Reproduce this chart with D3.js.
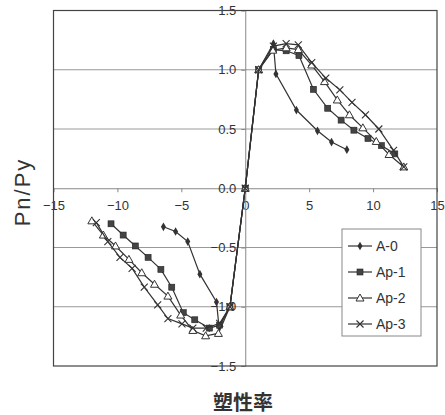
<!DOCTYPE html>
<html>
<head>
<meta charset="utf-8">
<script src="https://cdn.jsdelivr.net/npm/d3@7"></script>
<style>
  body { margin: 0; background: #fff; }
  svg { display: block; font-family: "Liberation Sans", Arial, sans-serif; }
</style>
</head>
<body>
<div id="chart"></div>
<script>
// series: [plastic ratio, Pn/Py], from the negative end through the origin to the positive end
const a0 = [[-6.4,-0.325],[-5.45,-0.365],[-4.5,-0.45],[-3.55,-0.725],[-2.25,-0.96],[-2.05,-1.17],[-1.2,-1.0],[0,0],
            [1.05,1.0],[2.2,1.22],[2.4,0.965],[4.0,0.66],[5.65,0.485],[6.75,0.39],[7.95,0.325]];
const ap1 = [[-10.5,-0.3],[-9.55,-0.395],[-8.6,-0.487],[-7.6,-0.583],[-6.6,-0.685],[-5.75,-0.835],[-4.85,-1.05],
             [-3.95,-1.11],[-2.8,-1.18],[-2.0,-1.155],[-1.2,-1.0],[0,0],[1.05,1.0],[2.2,1.17],[3.2,1.16],[4.2,1.12],
             [5.33,0.835],[6.45,0.675],[7.5,0.575],[8.5,0.49],[9.6,0.42],[10.65,0.36],[11.7,0.29]];
const ap2 = [[-12.0,-0.275],[-11.1,-0.395],[-10.15,-0.487],[-9.1,-0.6],[-8.1,-0.713],[-7.1,-0.81],[-6.05,-0.91],
             [-5.05,-1.07],[-4.1,-1.2],[-3.1,-1.245],[-2.1,-1.225],[-1.2,-1.0],[0,0],[1.05,1.0],[2.15,1.165],
             [3.2,1.185],[4.15,1.17],[5.2,1.04],[6.2,0.9],[7.2,0.745],[8.15,0.62],[9.2,0.51],[10.25,0.395],
             [11.25,0.285],[12.4,0.18]];
const ap3 = [[-11.65,-0.29],[-10.75,-0.45],[-9.8,-0.583],[-8.85,-0.676],[-7.9,-0.835],[-6.85,-0.985],[-6.05,-1.1],
             [-4.95,-1.145],[-4.1,-1.18],[-3.05,-1.18],[-2.0,-1.14],[-1.2,-1.0],[0,0],[1.05,1.0],[2.2,1.2],
             [3.2,1.22],[4.15,1.21],[5.2,1.06],[6.3,0.93],[7.4,0.83],[8.35,0.725],[9.4,0.62],[10.45,0.5],
             [11.6,0.32],[12.4,0.18]];

const seriesNames = ["A-0", "Ap-1", "Ap-2", "Ap-3"];
const seriesData = [a0, ap1, ap2, ap3];
const markerTypes = ["diamond", "square", "triangle", "cross"];

const xTicks = [-15, -10, -5, 0, 5, 10, 15];
const yTicks = [-1.5, -1.0, -0.5, 0.0, 0.5, 1.0, 1.5];
const gridValues = [-1.0, -0.5, 0.5, 1.0];

const xTitle = "塑性率";
const yTitle = "Pn/Py";

const W = 445, H = 415;
const plot = { left: 53.5, right: 437, top: 10.5, bottom: 366 };

const x = d3.scaleLinear().domain([-15, 15]).range([plot.left, plot.right]);
const y = d3.scaleLinear().domain([-1.5, 1.5]).range([plot.bottom, plot.top]);

const svg = d3.select("#chart").append("svg")
    .attr("width", W)
    .attr("height", H);

// horizontal gridlines
svg.append("g")
    .selectAll("line")
    .data(gridValues)
    .join("line")
    .attr("x1", plot.left).attr("x2", plot.right)
    .attr("y1", d => y(d)).attr("y2", d => y(d))
    .attr("stroke", "#999")
    .attr("stroke-width", 1);

// axes crossing at the origin
const xAxis = d3.axisBottom(x).tickValues(xTicks).tickFormat(d3.format("d"))
    .tickSize(4).tickSizeOuter(0).tickPadding(9);
const yAxis = d3.axisLeft(y).tickValues(yTicks).tickFormat(d3.format(".1f"))
    .tickSize(4).tickSizeOuter(0).tickPadding(5);

const gx = svg.append("g")
    .attr("transform", `translate(0,${y(0)})`)
    .call(xAxis);
const gy = svg.append("g")
    .attr("transform", `translate(${x(0)},0)`)
    .call(yAxis);

[gx, gy].forEach(g => {
    g.select(".domain").attr("stroke", "#888");
    g.selectAll(".tick line").attr("stroke", "#888");
    g.selectAll(".tick text")
        .attr("fill", "#333")
        .style("font-size", "13px")
        .style("font-family", "'Liberation Sans', Arial, sans-serif");
});

// plot frame
svg.append("rect")
    .attr("x", plot.left).attr("y", plot.top)
    .attr("width", plot.right - plot.left)
    .attr("height", plot.bottom - plot.top)
    .attr("fill", "none")
    .attr("stroke", "#444")
    .attr("stroke-width", 1.2);

const line = d3.line()
    .x(d => x(d[0]))
    .y(d => y(d[1]));

const drawMarker = (g, type, cx, cy) => {
    if (type === "diamond") {
        g.append("path")
            .attr("d", d3.symbol(d3.symbolDiamond, 22)())
            .attr("transform", `translate(${cx},${cy})`)
            .attr("fill", "#333");
    } else if (type === "square") {
        g.append("rect")
            .attr("x", cx - 3).attr("y", cy - 3)
            .attr("width", 6).attr("height", 6)
            .attr("fill", "#444").attr("stroke", "#222").attr("stroke-width", 0.6);
    } else if (type === "triangle") {
        g.append("path")
            .attr("d", `M${cx},${cy - 4}L${cx + 4},${cy + 3}L${cx - 4},${cy + 3}Z`)
            .attr("fill", "#fff").attr("stroke", "#333").attr("stroke-width", 1);
    } else {
        g.append("path")
            .attr("d", `M${cx - 3.5},${cy - 3.5}L${cx + 3.5},${cy + 3.5}M${cx - 3.5},${cy + 3.5}L${cx + 3.5},${cy - 3.5}`)
            .attr("fill", "none").attr("stroke", "#333").attr("stroke-width", 1.1);
    }
};

seriesData.forEach((data, i) => {
    const g = svg.append("g");
    g.append("path")
        .datum(data)
        .attr("fill", "none")
        .attr("stroke", "#333")
        .attr("stroke-width", 1.2)
        .attr("d", line);
    data.forEach(d => drawMarker(g, markerTypes[i], x(d[0]), y(d[1])));
});

// legend
const legend = svg.append("g");
legend.append("rect")
    .attr("x", 342).attr("y", 229)
    .attr("width", 79).attr("height", 107)
    .attr("fill", "#fff")
    .attr("stroke", "#888");

seriesNames.forEach((name, i) => {
    const ly = 246 + i * 26;
    legend.append("line")
        .attr("x1", 348).attr("x2", 372)
        .attr("y1", ly).attr("y2", ly)
        .attr("stroke", "#333").attr("stroke-width", 1.2);
    drawMarker(legend, markerTypes[i], 360, ly);
    legend.append("text")
        .attr("x", 376).attr("y", ly)
        .attr("dy", "0.36em")
        .attr("fill", "#333")
        .style("font-size", "14px")
        .text(name);
});

// axis titles
svg.append("text")
    .attr("x", 243).attr("y", 410)
    .attr("text-anchor", "middle")
    .attr("fill", "#333")
    .style("font-family", "'Noto Sans CJK JP', sans-serif")
    .style("font-size", "20px")
    .style("font-weight", "bold")
    .text(xTitle);

svg.append("text")
    .attr("transform", "translate(30,192) rotate(-90)")
    .attr("text-anchor", "middle")
    .attr("fill", "#333")
    .style("font-size", "22px")
    .style("letter-spacing", "2px")
    .text(yTitle);
</script>
</body>
</html>
